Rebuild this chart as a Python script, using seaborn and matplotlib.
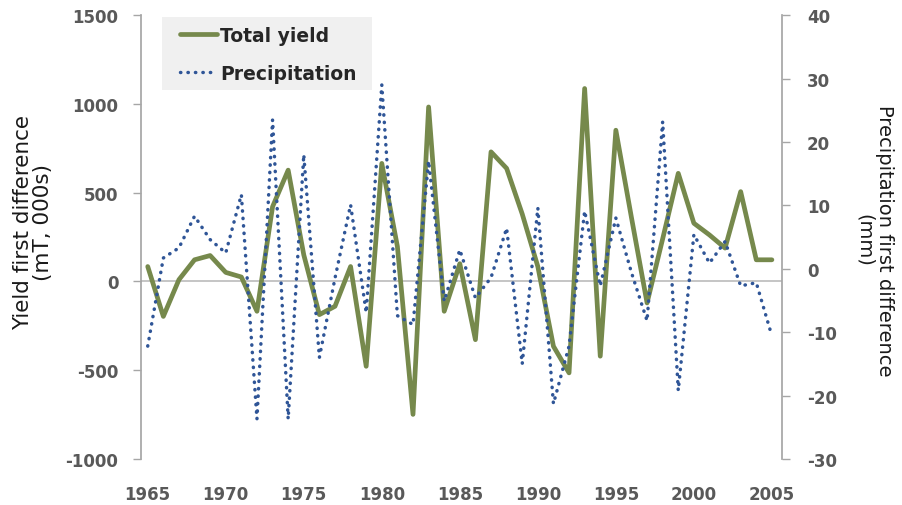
import seaborn as sns
import pandas as pd
import matplotlib.pyplot as plt
from matplotlib.patches import Rectangle

# yearly first differences
years = list(range(1965, 2006))
yield_diff = [84, -197, 10, 122, 146, 51, 25, -168, 421, 627,
              150, -187, -140, 84, -478, 665, 197, -749, 983, -168,
              100, -328, 730, 637, 380, 84, -365, -515, 1087, -421,
              852, 360, -121, 240, 609, 328, 262, 188, 506, 122,
              122]
precip_diff = [-12.2, 1.7, 3.3, 8.3, 4.6, 2.5, 11.7, -23.7, 23.5, -23.7,
               18.0, -14.0, -1.5, 10.1, -6.9, 29.0, -7.4, -8.8, 17.0, -5.1,
               3.0, -4.6, -1.4, 6.4, -15.0, 9.6, -21.3, -12.2, 9.1, -2.7,
               8.0, -0.6, -8.2, 23.2, -19.2, 5.4, 0.9, 4.3, -2.7, -2.2,
               -10.6]
left_ticks = [-1000, -500, 0, 500, 1000, 1500]
right_ticks = [-30, -20, -10, 0, 10, 20, 30, 40]
x_ticks = list(range(1965, 2006, 5))

df = pd.DataFrame({'year': years, 'yield': yield_diff, 'precip': precip_diff})

sns.set_theme(style='white')
plt.rcParams['font.family'] = ['DejaVu Sans']

green = '#76894c'
blue = '#2f5597'
grey = '#a6a6a6'
tick_col = '#595959'

fig = plt.figure(figsize=(9.02, 5.06), dpi=100)
ax = fig.add_axes([0.156, 0.091, 0.711, 0.877])
ax2 = ax.twinx()

ax.axhline(0, color='#c0c0c0', lw=1.3, zorder=0)
sns.lineplot(data=df, x='year', y='yield', ax=ax, color=green, lw=3.4,
             legend=False)
sns.lineplot(data=df, x='year', y='precip', ax=ax2, color=blue, lw=2.5,
             linestyle=(0, (0.1, 2.05)), dash_capstyle='round', legend=False)

ax.set_xlim(1964.55, 2005.65)
ax.set_ylim(-1000, 1500)
ax2.set_ylim(-30, 40)
ax.set_xticks(x_ticks)
ax.set_yticks(left_ticks)
ax2.set_yticks(right_ticks)
ax.set_yticklabels([str(t) for t in left_ticks])
ax2.set_yticklabels([str(t) for t in right_ticks])

for a in (ax, ax2):
    for s in a.spines.values():
        s.set_visible(False)
ax.spines['left'].set_visible(True)
ax.spines['left'].set_color(grey)
ax2.spines['right'].set_visible(True)
ax2.spines['right'].set_color(grey)

ax.tick_params(axis='y', left=True, length=6, width=1, color=grey, pad=10,
               labelsize=12, labelcolor=tick_col)
ax.tick_params(axis='x', bottom=False, length=0, pad=19, labelsize=12,
               labelcolor=tick_col)
ax2.tick_params(axis='y', right=True, length=6, width=1, color=grey, pad=12,
                labelsize=12, labelcolor=tick_col)
for lab in ax.get_xticklabels() + ax.get_yticklabels() + ax2.get_yticklabels():
    lab.set_fontweight('bold')

ax.set_xlabel('')
ax.set_ylabel('Yield first difference\n(mT, 000s)', fontsize=15.5,
              color='#1a1a1a', linespacing=1.0)
ax.yaxis.set_label_coords(-0.137, 0.534)
ax2.set_ylabel('Precipitation first difference\n(mm)', fontsize=14,
               color='#1a1a1a', rotation=270, linespacing=1.05)
ax2.yaxis.set_label_coords(1.174, 0.495)

# legend background box, then the entries without a frame
ax2.add_patch(Rectangle((0.0328, 0.831), 0.3276, 0.1644, transform=ax2.transAxes,
                        facecolor='#f0f0f0', edgecolor='none', zorder=0.5))
handles = [ax.get_lines()[-1], ax2.get_lines()[-1]]
leg = ax2.legend(handles=handles, labels=['Total yield', 'Precipitation'],
                 loc='upper left', bbox_to_anchor=(0.0608, 0.976),
                 frameon=False, prop={'weight': 'bold', 'size': 13.5},
                 handlelength=2.0, handletextpad=0.15, borderpad=0,
                 labelspacing=1.0, borderaxespad=0)

fig.savefig('out.png', dpi=100)
